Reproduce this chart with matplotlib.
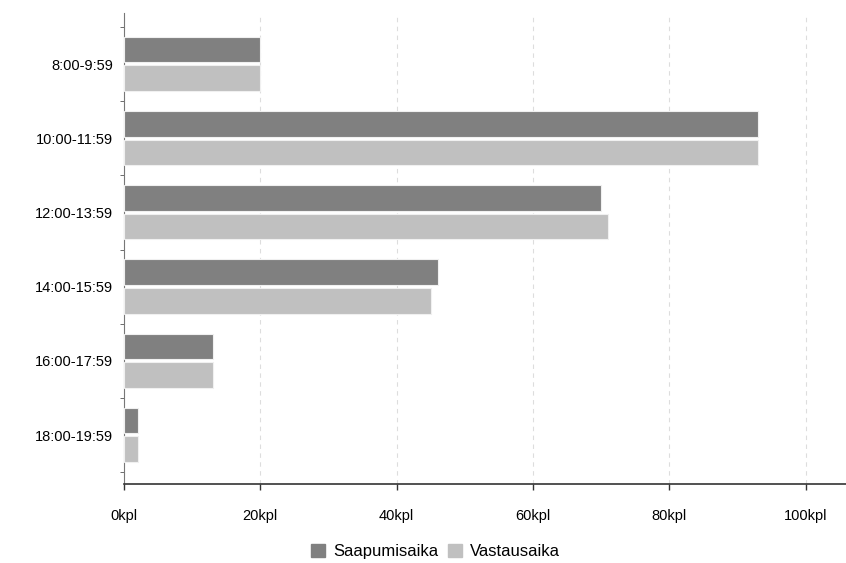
import numpy as np
import matplotlib
matplotlib.use("Agg")
import matplotlib.pyplot as plt

categories = ['8:00-9:59', '10:00-11:59', '12:00-13:59', '14:00-15:59',
              '16:00-17:59', '18:00-19:59']
saapumisaika = [20, 93, 70, 46, 13, 2]
vastausaika = [20, 93, 71, 45, 13, 2]
x_ticks = [0, 20, 40, 60, 80, 100]

plt.rcParams['font.family'] = ['Liberation Sans', 'DejaVu Sans']

fig = plt.figure(figsize=(8.46, 5.63), dpi=100)
ax = fig.add_axes([0.1466, 0.1403, 0.8534, 0.8367])

y = np.arange(len(categories))
h = 0.345
ax.barh(y - 0.195, saapumisaika, height=h, color='#808080',
        edgecolor='#f0f0f0', linewidth=0.8, label='Saapumisaika', zorder=3)
ax.barh(y + 0.19, vastausaika, height=h, color='#c0c0c0',
        edgecolor='#f0f0f0', linewidth=0.8, label='Vastausaika', zorder=3)

ax.set_xlim(0, 105.9)
ax.set_ylim(5.66, -0.69)
ax.set_xticks(x_ticks)
ax.set_xticklabels(['%dkpl' % v for v in x_ticks], fontsize=10.5)
ax.set_yticks(y)
ax.set_yticklabels(categories, fontsize=10.5)
ax.tick_params(axis='y', length=0, pad=8)
ax.tick_params(axis='x', length=4, width=1, color='#333333', pad=14)
ax.set_yticks(np.arange(-0.5, 6, 1), minor=True)
ax.tick_params(axis='y', which='minor', length=3, color='#555555')

ax.grid(axis='x', color='#dddddd', linestyle=(0, (4, 4)), linewidth=0.8, zorder=0)
for s in ['top', 'right']:
    ax.spines[s].set_visible(False)
ax.spines['left'].set_color('#777777')
ax.spines['bottom'].set_color('#333333')
ax.spines['bottom'].set_linewidth(1.2)

handles = [plt.Rectangle((0, 0), 1, 1, color='#808080'),
           plt.Rectangle((0, 0), 1, 1, color='#c0c0c0')]
fig.legend(handles, ['Saapumisaika', 'Vastausaika'], loc='center',
           bbox_to_anchor=(0.515, 0.02), ncol=2, frameon=False, fontsize=12,
           handlelength=0.8, handleheight=0.8, handletextpad=0.5, columnspacing=0.6)

fig.savefig('out.png', dpi=100)
